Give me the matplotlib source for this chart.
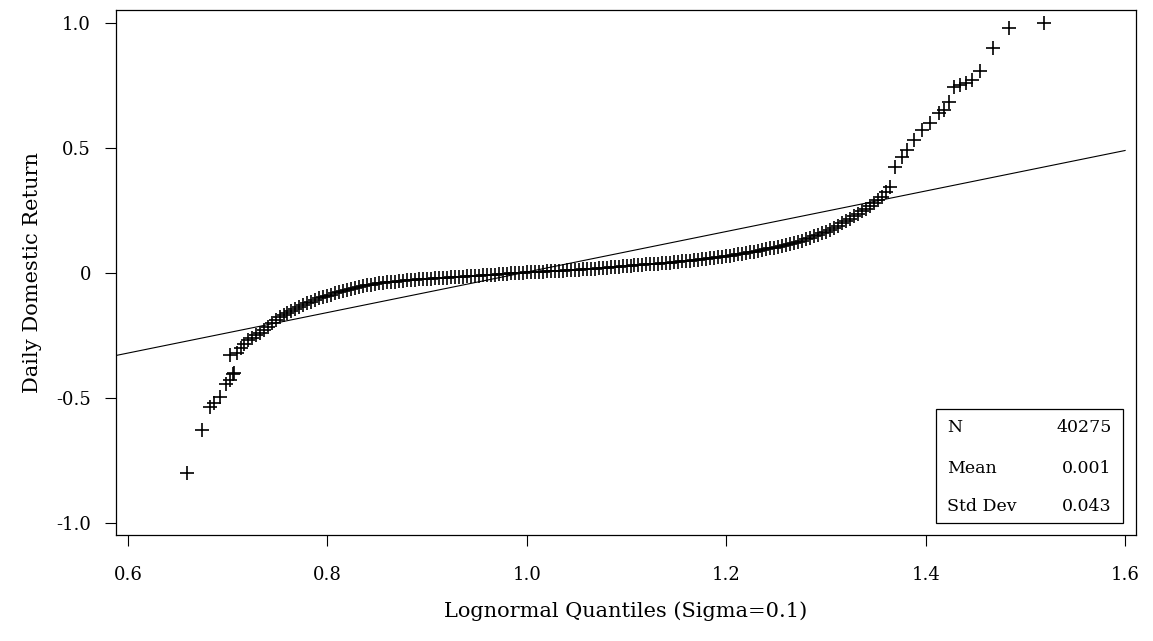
import matplotlib
matplotlib.use("Agg")
import matplotlib.pyplot as plt

plt.rcParams['font.family'] = ['DejaVu Serif', 'Liberation Serif']
plt.rcParams['axes.unicode_minus'] = False

# Q-Q points (lognormal quantile, daily return)
lower_x = [0.659, 0.674, 0.682, 0.686, 0.692, 0.698, 0.702, 0.705, 0.706, 0.702, 0.709, 0.713, 0.716]
lower_y = [-0.80, -0.628, -0.536, -0.52, -0.495, -0.444, -0.428, -0.404, -0.40, -0.33, -0.32, -0.30, -0.285]

body_x = [0.720, 0.724, 0.728, 0.732, 0.736, 0.740, 0.744, 0.748, 0.752, 0.756, 0.760, 0.764,
          0.768, 0.772, 0.776, 0.780, 0.784, 0.788, 0.792, 0.796, 0.800, 0.804, 0.808, 0.812,
          0.816, 0.820, 0.824, 0.828, 0.832, 0.836, 0.840, 0.844, 0.848, 0.852, 0.856, 0.860,
          0.864, 0.868, 0.872, 0.876, 0.880, 0.884, 0.888, 0.892, 0.896, 0.900, 0.904, 0.908,
          0.912, 0.916, 0.920, 0.924, 0.928, 0.932, 0.936, 0.940, 0.944, 0.948, 0.952, 0.956,
          0.960, 0.964, 0.968, 0.972, 0.976, 0.980, 0.984, 0.988, 0.992, 0.996, 1.000, 1.004,
          1.008, 1.012, 1.016, 1.020, 1.024, 1.028, 1.032, 1.036, 1.040, 1.044, 1.048, 1.052,
          1.056, 1.060, 1.064, 1.068, 1.072, 1.076, 1.080, 1.084, 1.088, 1.092, 1.096, 1.100,
          1.104, 1.108, 1.112, 1.116, 1.120, 1.124, 1.128, 1.132, 1.136, 1.140, 1.144, 1.148,
          1.152, 1.156, 1.160, 1.164, 1.168, 1.172, 1.176, 1.180, 1.184, 1.188, 1.192, 1.196,
          1.200, 1.204, 1.208, 1.212, 1.216, 1.220, 1.224, 1.228, 1.232, 1.236, 1.240, 1.244,
          1.248, 1.252, 1.256, 1.260, 1.264, 1.268, 1.272, 1.276, 1.280, 1.284, 1.288, 1.292,
          1.296, 1.300, 1.304, 1.308, 1.312, 1.316, 1.320, 1.324, 1.328, 1.332, 1.336, 1.340,
          1.344, 1.348, 1.352, 1.356, 1.360, 1.364]
body_y = [-0.270, -0.259, -0.250, -0.239, -0.228, -0.216, -0.202, -0.188, -0.176, -0.168, -0.160, -0.152,
          -0.144, -0.137, -0.129, -0.122, -0.115, -0.108, -0.101, -0.097, -0.092, -0.087, -0.082, -0.077,
          -0.073, -0.069, -0.065, -0.061, -0.057, -0.053, -0.050, -0.047, -0.044, -0.042, -0.040, -0.038,
          -0.037, -0.035, -0.034, -0.032, -0.030, -0.029, -0.028, -0.026, -0.025, -0.024, -0.023, -0.022,
          -0.021, -0.020, -0.019, -0.018, -0.017, -0.016, -0.015, -0.014, -0.013, -0.012, -0.011, -0.010,
          -0.009, -0.008, -0.007, -0.006, -0.004, -0.003, -0.002, -0.001, 0.000, 0.001, 0.002, 0.003,
          0.004, 0.005, 0.005, 0.006, 0.007, 0.007, 0.008, 0.009, 0.010, 0.011, 0.012, 0.013,
          0.014, 0.015, 0.016, 0.017, 0.019, 0.020, 0.021, 0.022, 0.024, 0.025, 0.026, 0.027,
          0.029, 0.030, 0.031, 0.032, 0.034, 0.035, 0.036, 0.037, 0.039, 0.040, 0.041, 0.043,
          0.044, 0.046, 0.047, 0.049, 0.050, 0.052, 0.054, 0.056, 0.058, 0.060, 0.062, 0.064,
          0.066, 0.069, 0.071, 0.074, 0.076, 0.079, 0.082, 0.085, 0.088, 0.091, 0.095, 0.098,
          0.101, 0.105, 0.109, 0.112, 0.116, 0.120, 0.125, 0.129, 0.134, 0.140, 0.146, 0.152,
          0.159, 0.165, 0.173, 0.181, 0.189, 0.198, 0.207, 0.216, 0.226, 0.236, 0.246, 0.257,
          0.268, 0.279, 0.290, 0.305, 0.325, 0.345]

upper_x = [1.369, 1.376, 1.381, 1.388, 1.396, 1.404, 1.413, 1.418, 1.423,
           1.428, 1.434, 1.440, 1.446, 1.455, 1.468, 1.484, 1.519]
upper_y = [0.424, 0.464, 0.492, 0.532, 0.572, 0.60, 0.64, 0.652, 0.684,
           0.744, 0.752, 0.76, 0.772, 0.808, 0.90, 0.98, 1.0]

# reference line end points
line_x = [0.588, 1.6]
line_y = [-0.33, 0.49]

stat_names = ['N', 'Mean', 'Std Dev']
stat_values = ['40275', '0.001', '0.043']

xs = lower_x + body_x + upper_x
ys = lower_y + body_y + upper_y

fig = plt.figure(figsize=(11.53, 6.41), dpi=100)
ax = fig.add_axes([0.1006, 0.1654, 0.8847, 0.819])

ax.plot(line_x, line_y, color='black', linewidth=0.8)
ax.plot(xs, ys, linestyle='none', marker='+', markersize=10, markeredgewidth=1.2, color='black')

ax.set_xlim(0.588, 1.611)
ax.set_ylim(-1.048, 1.052)
ax.set_xticks([0.6, 0.8, 1.0, 1.2, 1.4, 1.6])
ax.set_xticklabels(['0.6', '0.8', '1.0', '1.2', '1.4', '1.6'])
ax.set_yticks([-1.0, -0.5, 0, 0.5, 1.0])
ax.set_yticklabels(['-1.0', '-0.5', '0', '0.5', '1.0'])
ax.tick_params(axis='both', direction='out', length=8, width=0.8, labelsize=13)
ax.tick_params(axis='x', pad=14)
ax.tick_params(axis='y', pad=10)
for s in ax.spines.values():
    s.set_linewidth(0.9)

ax.set_xlabel('Lognormal Quantiles (Sigma=0.1)', fontsize=15, labelpad=13)
ax.set_ylabel('Daily Domestic Return', fontsize=15, labelpad=10)

# stats box
box = plt.Rectangle((0.804, 0.023), 0.183, 0.217, transform=ax.transAxes,
                    fill=False, edgecolor='black', linewidth=0.9)
ax.add_patch(box)
row_y = [0.204, 0.126, 0.055]
for name, val, ry in zip(stat_names, stat_values, row_y):
    ax.text(0.815, ry, name, transform=ax.transAxes, fontsize=12.5, va='center', ha='left')
    ax.text(0.976, ry, val, transform=ax.transAxes, fontsize=12.5, va='center', ha='right')

fig.savefig('out.png', dpi=100)
